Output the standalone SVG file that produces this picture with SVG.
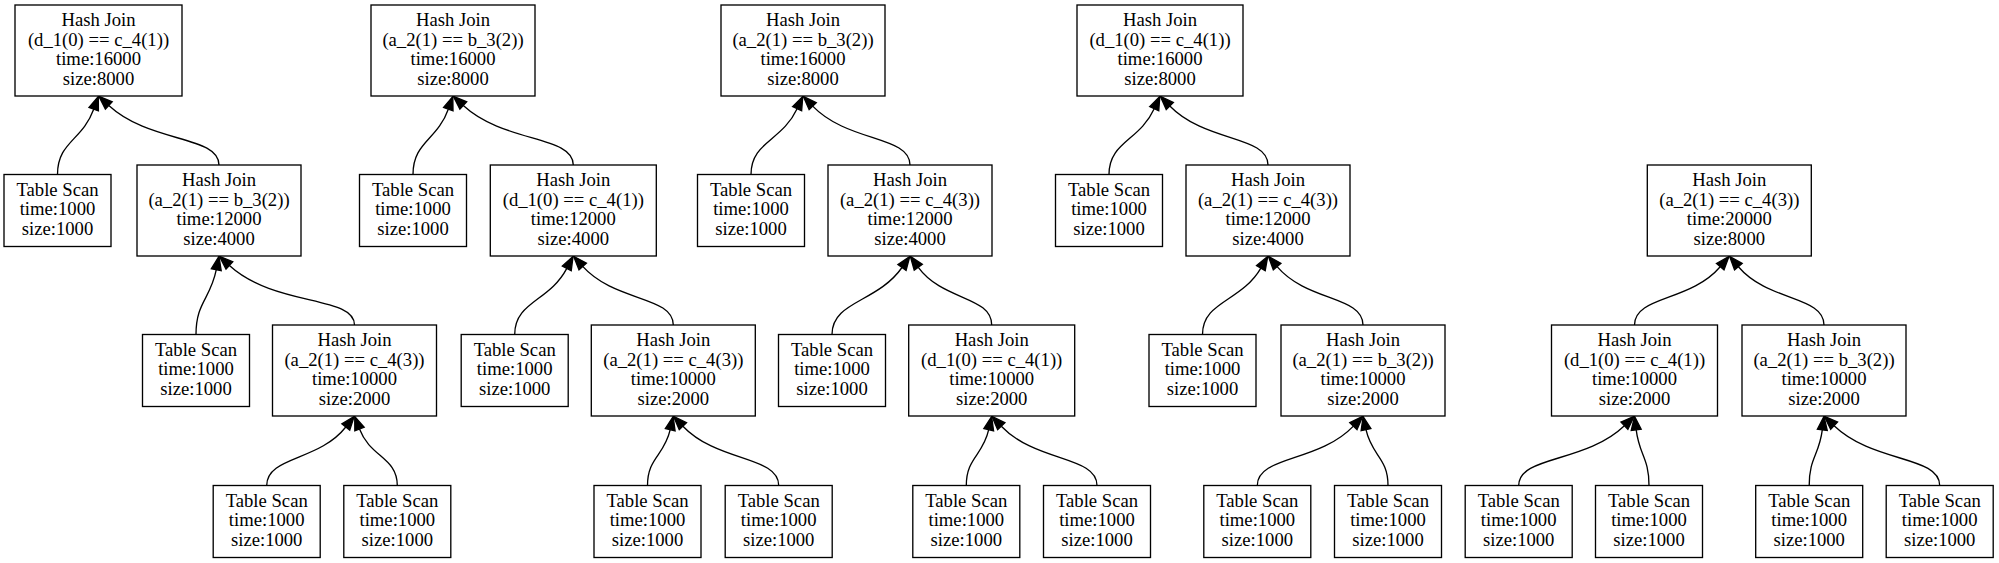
<svg xmlns="http://www.w3.org/2000/svg" width="1999" height="563" viewBox="0 0 1999 563">
<style>
.node rect{fill:#fff;stroke:#000;stroke-width:1.33}
.node text{font-family:"Liberation Serif","Times New Roman",serif;font-size:18.67px;text-anchor:middle;fill:#000}
.edges path{fill:none;stroke:#000;stroke-width:1.33;marker-end:url(#ah)}
</style>
<defs>
<marker id="ah" markerUnits="userSpaceOnUse" markerWidth="16" markerHeight="12" viewBox="0 -6 16 12" refX="0" refY="0" orient="auto" style="overflow:visible">
<path d="M0,-5 L13.5,0 L0,5 z" fill="#000" stroke="#000" stroke-width="1.33"/>
</marker>
</defs>
<rect width="1999" height="563" fill="#fff"/>
<g class="edges">
<path d="M57.5,174.5 C57.5,141.8 82.3,140.6 93.7,109.2"/>
<path d="M219,165 C219,135.3 150,143.5 108.8,105.5"/>
<path d="M196,334.5 C196,302.1 210.3,299.5 216.3,269.7"/>
<path d="M354.5,325 C354.5,295.2 275.2,307.1 229.4,265.4"/>
<path d="M266.7,485.5 C266.7,456.2 318.6,461.5 345.8,427"/>
<path d="M397.3,485.5 C397.3,457.3 370.2,457.4 359.5,429.1"/>
<path d="M413,174.5 C413,141.9 437.2,140.5 448.3,109.2"/>
<path d="M573.3,165 C573.3,135.2 504.4,143.4 463.3,105.5"/>
<path d="M514.7,334.5 C514.7,301.5 549.4,301.7 566.8,268.4"/>
<path d="M673.3,325 C673.3,295.7 614.9,302.2 582.7,266.4"/>
<path d="M647.5,485.5 C647.5,457.6 664.3,456 670.2,429.7"/>
<path d="M778.7,485.5 C778.7,455.8 717.6,462.6 682.9,426.2"/>
<path d="M751,174.5 C751,141.6 782,141.3 797.1,108.7"/>
<path d="M910,165 C910,135.5 848,142.7 812.7,106.1"/>
<path d="M832,334.5 C832,301 877.1,302.9 902,267.5"/>
<path d="M991.7,325 C991.7,296.1 942.9,300.9 918.3,267.3"/>
<path d="M966.3,485.5 C966.3,457.6 982.9,455.9 988.7,429.7"/>
<path d="M1097,485.5 C1097,455.8 1036,462.6 1001.3,426.2"/>
<path d="M1109,174.5 C1109,141.6 1139.4,141.2 1154.2,108.7"/>
<path d="M1268,165 C1268,135.5 1205.5,142.7 1169.8,106"/>
<path d="M1202.5,334.5 C1202.5,301.3 1240.9,302.2 1260.9,268.1"/>
<path d="M1363,325 C1363,295.8 1307.2,301.9 1277.1,266.6"/>
<path d="M1257.3,485.5 C1257.3,455.8 1318.6,462.6 1353.4,426.1"/>
<path d="M1388,485.5 C1388,457.6 1371.7,455.9 1366,429.7"/>
<path d="M1634.5,325 C1634.5,295.8 1690.2,301.9 1720.2,266.7"/>
<path d="M1824,325 C1824,295.8 1768.4,301.9 1738.4,266.7"/>
<path d="M1518.7,485.5 C1518.7,455.6 1585.2,463.3 1624.4,425.7"/>
<path d="M1649,485.5 C1649,457.7 1639.3,455.3 1636.2,429.9"/>
<path d="M1809.2,485.5 C1809.2,457.7 1819.1,455.3 1822.3,429.9"/>
<path d="M1939.7,485.5 C1939.7,455.6 1873.3,463.3 1834.1,425.7"/>
</g>

<g id="t1_root" class="node"><rect x="15" y="5" width="167" height="91"/><text x="98.5" y="25.9">Hash Join</text><text x="98.5" y="45.5">(d_1(0) == c_4(1))</text><text x="98.5" y="65.1">time:16000</text><text x="98.5" y="84.7">size:8000</text></g>
<g id="t1_ts1" class="node"><rect x="4" y="174.5" width="107" height="72"/><text x="57.5" y="195.7">Table Scan</text><text x="57.5" y="215.3">time:1000</text><text x="57.5" y="234.9">size:1000</text></g>
<g id="t1_hj2" class="node"><rect x="137" y="165" width="164" height="91"/><text x="219" y="185.9">Hash Join</text><text x="219" y="205.5">(a_2(1) == b_3(2))</text><text x="219" y="225.1">time:12000</text><text x="219" y="244.7">size:4000</text></g>
<g id="t1_ts2" class="node"><rect x="142.5" y="334.5" width="107" height="72"/><text x="196" y="355.7">Table Scan</text><text x="196" y="375.3">time:1000</text><text x="196" y="394.9">size:1000</text></g>
<g id="t1_hj3" class="node"><rect x="272.5" y="325" width="164" height="91"/><text x="354.5" y="345.9">Hash Join</text><text x="354.5" y="365.5">(a_2(1) == c_4(3))</text><text x="354.5" y="385.1">time:10000</text><text x="354.5" y="404.7">size:2000</text></g>
<g id="t1_ts3" class="node"><rect x="213.2" y="485.5" width="107" height="72"/><text x="266.7" y="506.7">Table Scan</text><text x="266.7" y="526.3">time:1000</text><text x="266.7" y="545.9">size:1000</text></g>
<g id="t1_ts4" class="node"><rect x="343.8" y="485.5" width="107" height="72"/><text x="397.3" y="506.7">Table Scan</text><text x="397.3" y="526.3">time:1000</text><text x="397.3" y="545.9">size:1000</text></g>

<g id="t2_root" class="node"><rect x="371" y="5" width="164" height="91"/><text x="453" y="25.9">Hash Join</text><text x="453" y="45.5">(a_2(1) == b_3(2))</text><text x="453" y="65.1">time:16000</text><text x="453" y="84.7">size:8000</text></g>
<g id="t2_ts1" class="node"><rect x="359.5" y="174.5" width="107" height="72"/><text x="413" y="195.7">Table Scan</text><text x="413" y="215.3">time:1000</text><text x="413" y="234.9">size:1000</text></g>
<g id="t2_hj2" class="node"><rect x="490.3" y="165" width="166" height="91"/><text x="573.3" y="185.9">Hash Join</text><text x="573.3" y="205.5">(d_1(0) == c_4(1))</text><text x="573.3" y="225.1">time:12000</text><text x="573.3" y="244.7">size:4000</text></g>
<g id="t2_ts2" class="node"><rect x="461.2" y="334.5" width="107" height="72"/><text x="514.7" y="355.7">Table Scan</text><text x="514.7" y="375.3">time:1000</text><text x="514.7" y="394.9">size:1000</text></g>
<g id="t2_hj3" class="node"><rect x="591.3" y="325" width="164" height="91"/><text x="673.3" y="345.9">Hash Join</text><text x="673.3" y="365.5">(a_2(1) == c_4(3))</text><text x="673.3" y="385.1">time:10000</text><text x="673.3" y="404.7">size:2000</text></g>
<g id="t2_ts3" class="node"><rect x="594" y="485.5" width="107" height="72"/><text x="647.5" y="506.7">Table Scan</text><text x="647.5" y="526.3">time:1000</text><text x="647.5" y="545.9">size:1000</text></g>
<g id="t2_ts4" class="node"><rect x="725.2" y="485.5" width="107" height="72"/><text x="778.7" y="506.7">Table Scan</text><text x="778.7" y="526.3">time:1000</text><text x="778.7" y="545.9">size:1000</text></g>

<g id="t3_root" class="node"><rect x="721" y="5" width="164" height="91"/><text x="803" y="25.9">Hash Join</text><text x="803" y="45.5">(a_2(1) == b_3(2))</text><text x="803" y="65.1">time:16000</text><text x="803" y="84.7">size:8000</text></g>
<g id="t3_ts1" class="node"><rect x="697.5" y="174.5" width="107" height="72"/><text x="751" y="195.7">Table Scan</text><text x="751" y="215.3">time:1000</text><text x="751" y="234.9">size:1000</text></g>
<g id="t3_hj2" class="node"><rect x="828" y="165" width="164" height="91"/><text x="910" y="185.9">Hash Join</text><text x="910" y="205.5">(a_2(1) == c_4(3))</text><text x="910" y="225.1">time:12000</text><text x="910" y="244.7">size:4000</text></g>
<g id="t3_ts2" class="node"><rect x="778.5" y="334.5" width="107" height="72"/><text x="832" y="355.7">Table Scan</text><text x="832" y="375.3">time:1000</text><text x="832" y="394.9">size:1000</text></g>
<g id="t3_hj3" class="node"><rect x="908.7" y="325" width="166" height="91"/><text x="991.7" y="345.9">Hash Join</text><text x="991.7" y="365.5">(d_1(0) == c_4(1))</text><text x="991.7" y="385.1">time:10000</text><text x="991.7" y="404.7">size:2000</text></g>
<g id="t3_ts3" class="node"><rect x="912.8" y="485.5" width="107" height="72"/><text x="966.3" y="506.7">Table Scan</text><text x="966.3" y="526.3">time:1000</text><text x="966.3" y="545.9">size:1000</text></g>
<g id="t3_ts4" class="node"><rect x="1043.5" y="485.5" width="107" height="72"/><text x="1097" y="506.7">Table Scan</text><text x="1097" y="526.3">time:1000</text><text x="1097" y="545.9">size:1000</text></g>

<g id="t4_root" class="node"><rect x="1077" y="5" width="166" height="91"/><text x="1160" y="25.9">Hash Join</text><text x="1160" y="45.5">(d_1(0) == c_4(1))</text><text x="1160" y="65.1">time:16000</text><text x="1160" y="84.7">size:8000</text></g>
<g id="t4_ts1" class="node"><rect x="1055.5" y="174.5" width="107" height="72"/><text x="1109" y="195.7">Table Scan</text><text x="1109" y="215.3">time:1000</text><text x="1109" y="234.9">size:1000</text></g>
<g id="t4_hj2" class="node"><rect x="1186" y="165" width="164" height="91"/><text x="1268" y="185.9">Hash Join</text><text x="1268" y="205.5">(a_2(1) == c_4(3))</text><text x="1268" y="225.1">time:12000</text><text x="1268" y="244.7">size:4000</text></g>
<g id="t4_ts2" class="node"><rect x="1149" y="334.5" width="107" height="72"/><text x="1202.5" y="355.7">Table Scan</text><text x="1202.5" y="375.3">time:1000</text><text x="1202.5" y="394.9">size:1000</text></g>
<g id="t4_hj3" class="node"><rect x="1281" y="325" width="164" height="91"/><text x="1363" y="345.9">Hash Join</text><text x="1363" y="365.5">(a_2(1) == b_3(2))</text><text x="1363" y="385.1">time:10000</text><text x="1363" y="404.7">size:2000</text></g>
<g id="t4_ts3" class="node"><rect x="1203.8" y="485.5" width="107" height="72"/><text x="1257.3" y="506.7">Table Scan</text><text x="1257.3" y="526.3">time:1000</text><text x="1257.3" y="545.9">size:1000</text></g>
<g id="t4_ts4" class="node"><rect x="1334.5" y="485.5" width="107" height="72"/><text x="1388" y="506.7">Table Scan</text><text x="1388" y="526.3">time:1000</text><text x="1388" y="545.9">size:1000</text></g>

<g id="t5_root" class="node"><rect x="1647.3" y="165" width="164" height="91"/><text x="1729.3" y="185.9">Hash Join</text><text x="1729.3" y="205.5">(a_2(1) == c_4(3))</text><text x="1729.3" y="225.1">time:20000</text><text x="1729.3" y="244.7">size:8000</text></g>
<g id="t5_hjL" class="node"><rect x="1551.5" y="325" width="166" height="91"/><text x="1634.5" y="345.9">Hash Join</text><text x="1634.5" y="365.5">(d_1(0) == c_4(1))</text><text x="1634.5" y="385.1">time:10000</text><text x="1634.5" y="404.7">size:2000</text></g>
<g id="t5_hjR" class="node"><rect x="1742" y="325" width="164" height="91"/><text x="1824" y="345.9">Hash Join</text><text x="1824" y="365.5">(a_2(1) == b_3(2))</text><text x="1824" y="385.1">time:10000</text><text x="1824" y="404.7">size:2000</text></g>
<g id="t5_ts1" class="node"><rect x="1465.2" y="485.5" width="107" height="72"/><text x="1518.7" y="506.7">Table Scan</text><text x="1518.7" y="526.3">time:1000</text><text x="1518.7" y="545.9">size:1000</text></g>
<g id="t5_ts2" class="node"><rect x="1595.5" y="485.5" width="107" height="72"/><text x="1649" y="506.7">Table Scan</text><text x="1649" y="526.3">time:1000</text><text x="1649" y="545.9">size:1000</text></g>
<g id="t5_ts3" class="node"><rect x="1755.7" y="485.5" width="107" height="72"/><text x="1809.2" y="506.7">Table Scan</text><text x="1809.2" y="526.3">time:1000</text><text x="1809.2" y="545.9">size:1000</text></g>
<g id="t5_ts4" class="node"><rect x="1886.2" y="485.5" width="107" height="72"/><text x="1939.7" y="506.7">Table Scan</text><text x="1939.7" y="526.3">time:1000</text><text x="1939.7" y="545.9">size:1000</text></g>
</svg>
